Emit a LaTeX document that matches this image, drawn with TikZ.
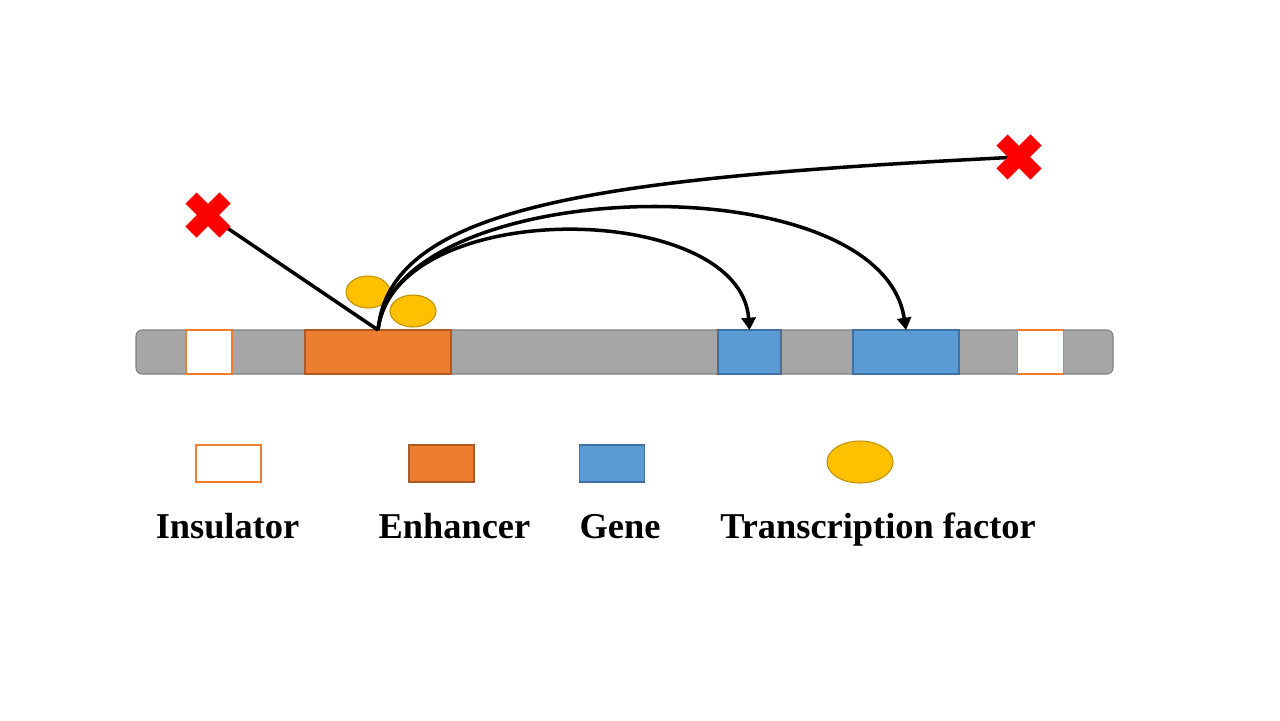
\documentclass[tikz,border=0pt]{standalone}
\usepackage{fontspec}
\setmainfont{Liberation Serif}
\usetikzlibrary{arrows.meta,shapes.geometric}
\definecolor{chromgray}{HTML}{A6A6A6}
\definecolor{chromedge}{HTML}{7F7F7F}
\definecolor{enhorange}{HTML}{ED7D31}
\definecolor{enhedge}{HTML}{AE5A21}
\definecolor{geneblue}{HTML}{5B9BD5}
\definecolor{geneedge}{HTML}{41719C}
\definecolor{tfyellow}{HTML}{FFC000}
\definecolor{tfedge}{HTML}{BF9000}
\begin{document}
\begin{tikzpicture}[x=0.02cm, y=-0.02cm,
        block/.style={draw, line width=0.6pt, inner sep=0pt, outer sep=0pt, minimum height=0.88cm},
        insul/.style={block, draw=enhorange, fill=white, minimum width=0.92cm},
        enh/.style={block, draw=enhedge, fill=enhorange},
        gene/.style={block, draw=geneedge, fill=geneblue},
        tf/.style={ellipse, draw=tfedge, fill=tfyellow, line width=0.6pt, inner sep=0pt, minimum width=0.88cm, minimum height=0.64cm},
        link/.style={line width=2pt},
        blocked/.style={red, line width=9pt},
        legtext/.style={font=\fontsize{20.7}{24}\selectfont\bfseries, anchor=base}]
        \useasboundingbox (0,0) rectangle (1280,720);
        % chromosome
        \filldraw [fill=chromgray, draw=chromedge, line width=0.6pt, rounded corners=0.12cm] (136,330) rectangle (1113,374);
        \node [insul] (insA) at (209,352) {};
        \node [enh, minimum width=2.92cm] (enh) at (378,352) {};
        \node [gene, minimum width=1.26cm] (geneA) at (749.5,352) {};
        \node [gene, minimum width=2.12cm] (geneB) at (906,352) {};
        \node [insul] (insB) at (1040.5,352) {};
        % transcription factors
        \node [tf] (tfA) at (368,292) {};
        \node [tf, minimum width=0.92cm] (tfB) at (413,311) {};
        % blocked ends
        \coordinate (XL) at (208,215);
        \coordinate (XR) at (1019,157);
        % loops
        \draw [link] (enh.north) -- (XL);
        \draw [link] (enh.north) .. controls (390,205) and (600,178) .. (XR);
        \draw [link, -{Triangle[length=7pt, width=8pt]}] (enh.north) .. controls (395,175) and (880,160) .. (geneB.north);
        \draw [link, -{Triangle[length=7pt, width=8pt]}] (enh.north) .. controls (395,195) and (740,200) .. (geneA.north);
        \foreach \c in {XL, XR} {
            \draw [blocked, shift={(\c)}] (-17,-17) -- (17,17) (-17,17) -- (17,-17);
        }
        % legend
        \node [insul, minimum width=1.3cm, minimum height=0.74cm] (legIns) at (228.5,463.5) {};
        \node [enh, minimum width=1.3cm, minimum height=0.74cm] (legEnh) at (441.5,463.5) {};
        \node [gene, minimum width=1.3cm, minimum height=0.74cm] (legGene) at (612,463.5) {};
        \node [tf, minimum width=1.32cm, minimum height=0.84cm] (legTF) at (860,462) {};
        \node [legtext] (txtIns) at (227.5,538) {Insulator};
        \node [legtext] (txtEnh) at (454.5,538) {Enhancer};
        \node [legtext] (txtGene) at (620,538) {Gene};
        \node [legtext] (txtTF) at (878,538) {Transcription factor};
    \end{tikzpicture}
\end{document}
